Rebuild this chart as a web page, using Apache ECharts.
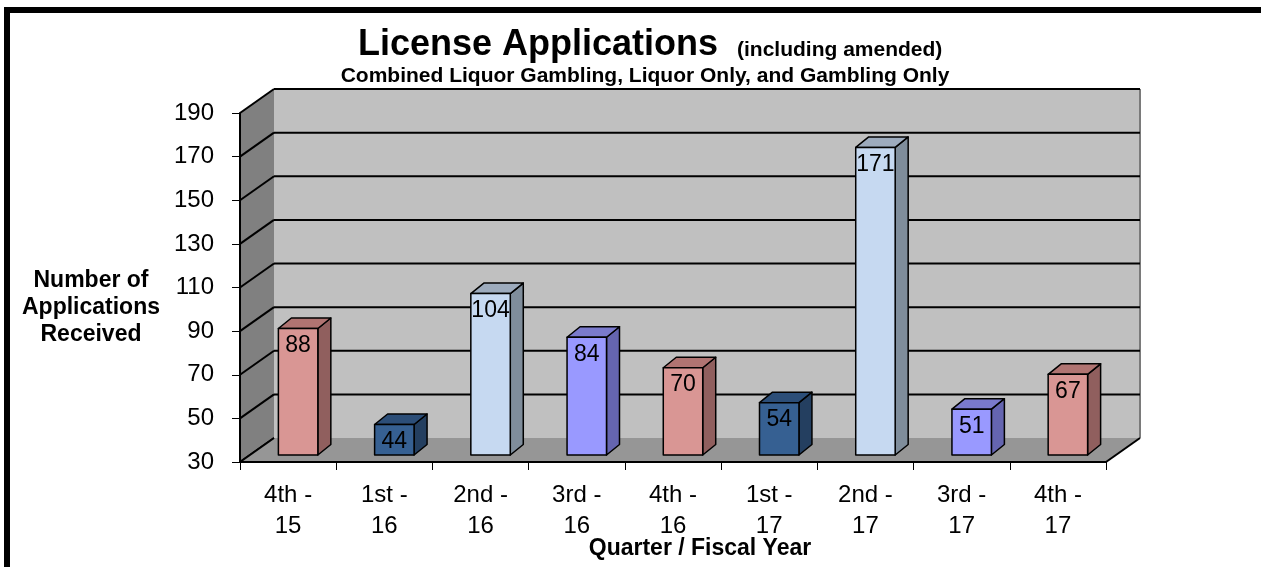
<!DOCTYPE html>
<html>
<head>
<meta charset="utf-8">
<title>License Applications</title>
<script src="https://cdn.jsdelivr.net/npm/echarts@6/dist/echarts.min.js"></script>
<style>
  html, body { margin: 0; padding: 0; background: #fff; }
  #wrap { position: relative; width: 1261px; height: 567px; overflow: hidden; }
  #chart { width: 1261px; height: 567px; }
  #frame {
    position: absolute; left: 4px; top: 7px; right: -10px; bottom: -10px;
    border-top: 6px solid #000; border-left: 6px solid #000; pointer-events: none;
  }
</style>
</head>
<body>
<div id="wrap">
  <div id="chart"></div>
  <div id="frame"></div>
</div>
<script>
// data
var quarters = ['4th -\n15', '1st -\n16', '2nd -\n16', '3rd -\n16', '4th -\n16',
                '1st -\n17', '2nd -\n17', '3rd -\n17', '4th -\n17'];
var applications = [88, 44, 104, 84, 70, 54, 171, 51, 67];
var yTicks = [30, 50, 70, 90, 110, 130, 150, 170, 190];

// bar colours (front / side / top), repeating every four quarters
var barFront = ['#d99694', '#366092', '#c6d9f1', '#9999ff'];
var barSide  = ['#905f5e', '#243f60', '#7f8d9b', '#6565b0'];
var barTop   = ['#b07472', '#2c4e78', '#9dabbd', '#7a7acc'];

var FONT = '"Liberation Sans", Arial, sans-serif';
var yMin = yTicks[0], yMax = yTicks[yTicks.length - 1];

// depth of the back wall and of the bars
var DX = 34, DY = -24;
var FX = 10, FY = -7;     // bar front face sits a bit back on the floor
var BX = 13, BY = -10.5;  // bar depth

var chart = echarts.init(document.getElementById('chart'));

function frameItem(params, api) {
  var n = quarters.length;
  var catW = api.size([1, 0])[0];
  var x0 = api.coord([0, yMin])[0] - catW / 2;
  var x1 = api.coord([n - 1, yMin])[0] + catW / 2;
  var y = function (v) { return api.coord([0, v])[1]; };
  var yb = y(yMin), yt = y(yMax);
  var kids = [];

  // back wall
  kids.push({ type: 'rect', shape: { x: x0 + DX, y: yt + DY, width: x1 - x0, height: yb - yt },
    style: { fill: '#c0c0c0', stroke: null } });
  kids.push({ type: 'line', shape: { x1: x1 + DX, y1: yt + DY, x2: x1 + DX, y2: yb + DY },
    style: { stroke: '#7a7a7a', lineWidth: 2 } });
  yTicks.forEach(function (v) {
    if (v === yMin) return;
    kids.push({ type: 'line', shape: { x1: x0 + DX, y1: y(v) + DY, x2: x1 + DX, y2: y(v) + DY },
      style: { stroke: '#000', lineWidth: 2 } });
  });

  // left side wall
  kids.push({ type: 'polygon', shape: { points: [[x0, yt], [x0 + DX, yt + DY], [x0 + DX, yb + DY], [x0, yb]] },
    style: { fill: '#808080' } });
  yTicks.forEach(function (v) {
    kids.push({ type: 'line', shape: { x1: x0, y1: y(v), x2: x0 + DX, y2: y(v) + DY },
      style: { stroke: '#000', lineWidth: 2 } });
  });

  // floor
  kids.push({ type: 'polygon', shape: { points: [[x0, yb], [x1, yb], [x1 + DX, yb + DY], [x0 + DX, yb + DY]] },
    style: { fill: '#969696' } });
  kids.push({ type: 'line', shape: { x1: x0, y1: yb, x2: x0 + DX, y2: yb + DY },
    style: { stroke: '#000', lineWidth: 2 } });
  kids.push({ type: 'line', shape: { x1: x1, y1: yb, x2: x1 + DX, y2: yb + DY },
    style: { stroke: '#000', lineWidth: 2 } });

  return { type: 'group', children: kids };
}

function barItem(params, api) {
  var i = api.value(0), v = api.value(1);
  var top = api.coord([i, v]);
  var base = api.coord([i, yMin]);
  var w = api.size([1, 0])[0] * 0.41;
  var xl = top[0] - w / 2 + FX, xr = xl + w;
  var yt = top[1] + FY, yb = base[1] + FY;
  var c = i % barFront.length;
  var line = { stroke: '#000', lineWidth: 1.5, lineJoin: 'round' };
  return {
    type: 'group',
    children: [
      { type: 'polygon', shape: { points: [[xr, yt], [xr + BX, yt + BY], [xr + BX, yb + BY], [xr, yb]] },
        style: Object.assign({ fill: barSide[c] }, line) },
      { type: 'polygon', shape: { points: [[xl, yt], [xl + BX, yt + BY], [xr + BX, yt + BY], [xr, yt]] },
        style: Object.assign({ fill: barTop[c] }, line) },
      { type: 'rect', shape: { x: xl, y: yt, width: w, height: yb - yt },
        style: Object.assign({ fill: barFront[c] }, line) },
      { type: 'text', style: { text: String(v), x: (xl + xr) / 2, y: yt + 17,
          align: 'center', verticalAlign: 'middle', fill: '#000', font: '23px ' + FONT } }
    ]
  };
}

var option = {
  animation: false,
  backgroundColor: '#fff',
  textStyle: { fontFamily: FONT },
  grid: { left: 240, top: 113, width: 866, height: 349, outerBoundsMode: 'none' },
  graphic: [
    { type: 'text', x: 358, y: 45, style: { text: 'License Applications', font: 'bold 36px ' + FONT,
        fill: '#000', align: 'left', verticalAlign: 'middle' } },
    { type: 'text', x: 737, y: 50, style: { text: '(including amended)', font: 'bold 21px ' + FONT,
        fill: '#000', align: 'left', verticalAlign: 'middle' } },
    { type: 'text', x: 645, y: 76, style: { text: 'Combined Liquor Gambling, Liquor Only, and Gambling Only',
        font: 'bold 21px ' + FONT, fill: '#000', align: 'center', verticalAlign: 'middle' } },
    { type: 'text', x: 91, y: 308, style: { text: 'Number of\nApplications\nReceived',
        font: 'bold 23px ' + FONT, lineHeight: 27, fill: '#000', align: 'center', verticalAlign: 'middle' } },
    { type: 'text', x: 700, y: 549, style: { text: 'Quarter / Fiscal Year',
        font: 'bold 23px ' + FONT, fill: '#000', align: 'center', verticalAlign: 'middle' } }
  ],
  xAxis: {
    type: 'category',
    data: quarters,
    z: 10,
    axisLine: { show: true, lineStyle: { color: '#000', width: 2 } },
    axisTick: { show: true, length: 8, lineStyle: { color: '#000', width: 1 } },
    axisLabel: { color: '#000', fontSize: 24, lineHeight: 31, margin: 18, interval: 0 },
    splitLine: { show: false }
  },
  yAxis: {
    type: 'value',
    min: yMin, max: yMax, interval: 20,
    z: 10,
    axisLine: { show: true, lineStyle: { color: '#000', width: 2 } },
    axisTick: { show: true, length: 8, lineStyle: { color: '#000', width: 1 } },
    axisLabel: { color: '#000', fontSize: 24, margin: 26 },
    splitLine: { show: false }
  },
  series: [
    {
      type: 'custom',
      name: 'frame',
      z: 1,
      silent: true,
      data: [[0, yMin]],
      renderItem: frameItem
    },
    {
      type: 'custom',
      name: 'Applications',
      z: 3,
      encode: { x: 0, y: 1 },
      data: applications.map(function (v, i) { return [i, v]; }),
      renderItem: barItem
    }
  ]
};

chart.setOption(option);
</script>
</body>
</html>
